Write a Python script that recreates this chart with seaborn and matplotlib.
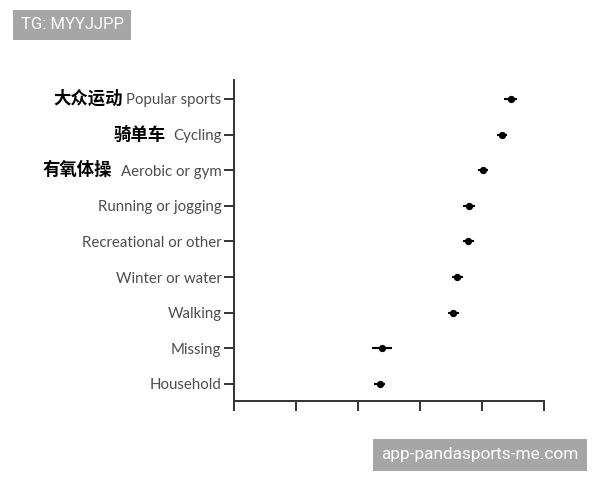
import pandas as pd
import matplotlib
matplotlib.use("Agg")
import matplotlib.pyplot as plt
import matplotlib.transforms as mtransforms
import seaborn as sns

# Values (x axis has no labels, ticks at 0..5)
sports = ["Popular sports", "Cycling", "Aerobic or gym", "Running or jogging",
          "Recreational or other", "Winter or water", "Walking", "Missing", "Household"]
means = [4.46, 4.32, 4.02, 3.79, 3.78, 3.60, 3.54, 2.39, 2.35]
errs = [0.10, 0.085, 0.08, 0.09, 0.09, 0.09, 0.09, 0.165, 0.09]
cn_labels = ["大众运动", "骑单车", "有氧体操"]
x_ticks = [0, 1, 2, 3, 4, 5]

df = pd.DataFrame({"sport": sports, "mean": means, "err": errs})

sns.set_style("ticks")
plt.rcParams["font.family"] = ["Lato", "DejaVu Sans"]

fig = plt.figure(figsize=(6, 4.8), dpi=100)
ax = fig.add_axes([0.39, 0.1646, 0.5167, 0.6687])

ax.errorbar(df["mean"], range(len(df)), xerr=df["err"], fmt="none",
            ecolor="black", elinewidth=1.5, capsize=0)
sns.pointplot(data=df, x="mean", y="sport", order=sports, color="black",
              linestyle="none", markers="o", errorbar=None, markersize=3.2, ax=ax)

ax.set_xlim(0, 5)
ax.set_ylim(len(sports) - 1 + 0.48, -0.53)
ax.set_xticks(x_ticks)
ax.set_xticklabels([])
ax.set_xlabel("")
ax.set_ylabel("")

for side in ["top", "right"]:
    ax.spines[side].set_visible(False)
for side in ["left", "bottom"]:
    ax.spines[side].set_color("#333333")
    ax.spines[side].set_linewidth(1.4)
ax.tick_params(axis="both", direction="out", length=7, width=1.4, color="#333333")
ax.tick_params(axis="y", labelsize=10.8, labelcolor="#4d4d4d", pad=2)

# Chinese labels to the left of the first three categories
trans = mtransforms.blended_transform_factory(fig.transFigure, ax.transData)
cn_x = [0.204, 0.276, 0.186]
for i, (lab, xx) in enumerate(zip(cn_labels, cn_x)):
    ax.text(xx, i, lab, transform=trans, ha="right", va="center", fontsize=12.5,
            fontweight="bold", color="black", family=["Noto Sans CJK SC", "DejaVu Sans"])

# Watermarks
fig.text(0.1208, 0.948, "TG: MYYJJPP", ha="center", va="center", fontsize=12, color="white",
         family=["Roboto", "DejaVu Sans"],
         bbox=dict(boxstyle="square,pad=0.45", facecolor="#a6a6a6", edgecolor="none"))
fig.text(0.8, 0.0527, "app-pandasports-me.com", ha="center", va="center", fontsize=12.4, color="white",
         family=["Roboto", "DejaVu Sans"],
         bbox=dict(boxstyle="square,pad=0.5", facecolor="#a6a6a6", edgecolor="none"))

fig.savefig("out.png", dpi=100)
